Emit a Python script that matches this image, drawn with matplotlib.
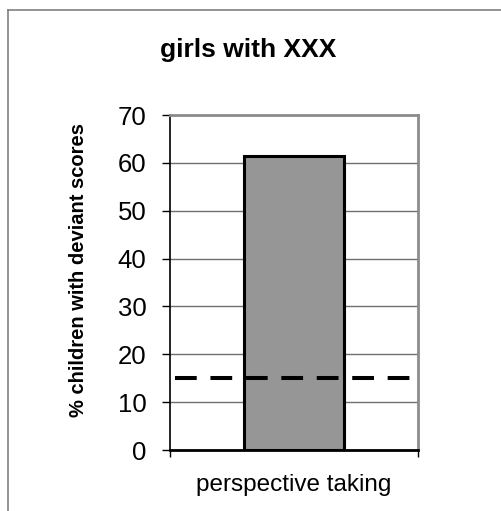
import matplotlib.pyplot as plt
from matplotlib.lines import Line2D

plt.rcParams['font.family'] = ['Liberation Sans', 'DejaVu Sans']

categories = ['perspective taking']
values = [61.5]
cutoff = 15
yticks = [0, 10, 20, 30, 40, 50, 60, 70]

fig = plt.figure(figsize=(5.02, 5.11), dpi=100)
ax = fig.add_axes([170 / 502, 61 / 511, 248 / 502, 335 / 511])

# gray frame around the chart
fig.add_artist(Line2D([8 / 502, 8 / 502], [0, 1 - 10 / 511], color='#808080', lw=1.2))
fig.add_artist(Line2D([8 / 502, 1], [1 - 10 / 511, 1 - 10 / 511], color='#808080', lw=1.2))

ax.bar(range(len(categories)), values, width=0.403, color='#969696',
       edgecolor='black', linewidth=2.2, zorder=3)
ax.axhline(cutoff, xmin=0.02, xmax=1.01, color='black', lw=2.9,
           dashes=(5.4, 3.4), clip_on=False, zorder=4)

ax.set_xlim(-0.5, 0.5)
ax.set_ylim(0, 70)
ax.set_yticks(yticks)
ax.set_xticks(range(len(categories)))
ax.set_xticklabels(categories, fontsize=17.5)
ax.set_xticks([-0.5, 0.5], minor=True)
ax.tick_params(axis='x', which='major', length=0, pad=17)
ax.tick_params(axis='x', which='minor', length=5, width=1, direction='out')
ax.tick_params(axis='y', labelsize=18.5, length=6, width=1, pad=11)
ax.yaxis.grid(True, color='#707070', lw=1)
ax.set_axisbelow(True)

for side in ['top', 'right']:
    ax.spines[side].set_color('#8c8c8c')
    ax.spines[side].set_linewidth(2)
ax.spines['left'].set_linewidth(1.2)
ax.spines['bottom'].set_linewidth(2)

ax.set_ylabel('% children with deviant scores', fontsize=14.5, fontweight='bold')
ax.yaxis.set_label_coords(-0.331, 0.537)
fig.text(248 / 502, 1 - 50 / 511, 'girls with XXX', fontsize=19, fontweight='bold',
         ha='center', va='center')

fig.savefig('out.png', dpi=100)
